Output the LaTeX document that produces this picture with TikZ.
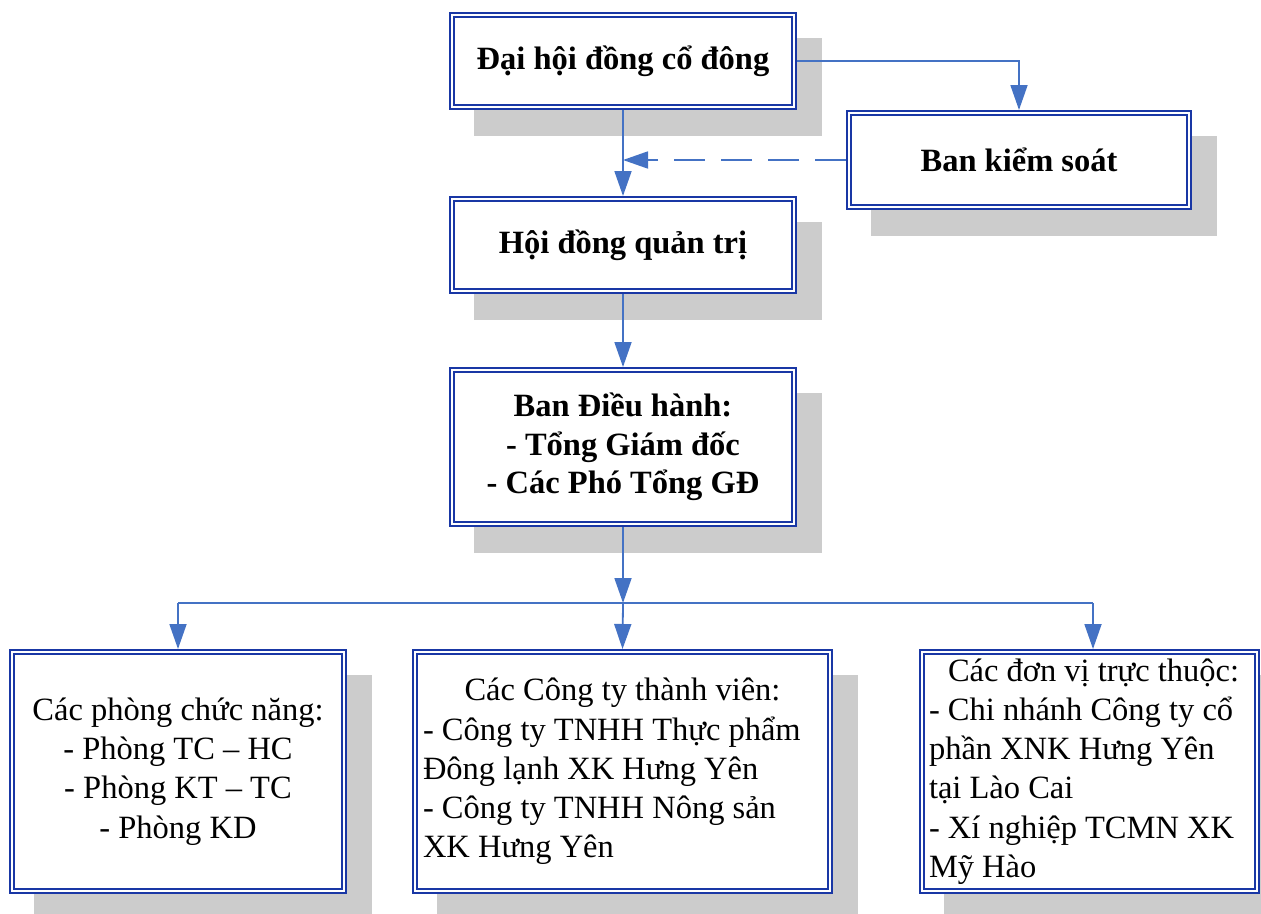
\documentclass[tikz,border=0pt]{standalone}
\usepackage{fontspec}
\setmainfont{Liberation Serif}
\usetikzlibrary{arrows.meta,backgrounds,calc}
\definecolor{boxc}{RGB}{25,55,165}
\definecolor{linec}{RGB}{68,114,196}
\definecolor{shc}{RGB}{204,204,204}
\tikzset{
  box/.style={draw=boxc, double=white, double distance=2.4pt, line width=1.8pt,
    fill=white, outer sep=3pt, inner sep=0pt, align=center,
    font=\fontsize{32.5}{39.3}\selectfont},
  bbox/.style={box, font=\fontsize{32.5}{38.6}\selectfont\bfseries},
  arr/.style={draw=linec, line width=1.8pt, -{Triangle[length=25pt,width=17pt]}},
  conn/.style={draw=linec, line width=1.8pt},
  shadowbox/.style={fill=shc}
}
\begin{document}
\begin{tikzpicture}[x=1pt,y=-1pt]
\useasboundingbox (0,0) rectangle (1261,913);
\node[bbox, minimum width=342pt, minimum height=92pt] (b1) at (623,61) {Đại hội đồng cổ đông};
\node[bbox, minimum width=340pt, minimum height=94pt] (b2) at (1019,160) {Ban kiểm soát};
\node[bbox, minimum width=342pt, minimum height=92pt] (b3) at (623,245) {Hội đồng quản trị};
\node[bbox, minimum width=342pt, minimum height=154pt] (b4) at (623,447) {Ban Điều hành:\\- Tổng Giám đốc\\- Các Phó Tổng GĐ};
\node[box, minimum width=332pt, minimum height=239pt] (b5) at (178,771.5) {Các phòng chức năng:\\- Phòng TC -- HC\\- Phòng KT -- TC\\- Phòng KD};
\node[box, minimum width=415pt, minimum height=239pt, text width=399pt, align=flush left] (b6) at (622.5,771.5)
  {\makebox[\hsize][c]{Các Công ty thành viên:}\\- Công ty TNHH Thực phẩm\\Đông lạnh XK Hưng Yên\\- Công ty TNHH Nông sản\\XK Hưng Yên};
\node[box, minimum width=335pt, minimum height=239pt, text width=321pt, align=flush left] (b7) at (1089.5,771.5)
  {\makebox[\hsize][c]{\ Các đơn vị trực thuộc:}\\- Chi nhánh Công ty cổ\\phần XNK Hưng Yên\\tại Lào Cai\\- Xí nghiệp TCMN XK\\Mỹ Hào};
\begin{scope}[on background layer]
  \foreach \b in {b1,b2,b3,b4,b5,b6,b7}{
    \fill[shadowbox] ($(\b.north west)+(25,26)$) rectangle ($(\b.south east)+(25,26)$);
  }
\end{scope}
\coordinate (j) at (623,603);
\coordinate (k1) at (178,603);
\coordinate (k3) at (1093,603);
\draw[arr] (b1.east) -| (b2.north);
\draw[arr] (b1.south) -- (b3.north);
\draw[arr, dash pattern=on 31pt off 16pt] (b2.west) -- (b2.west -| b1.south);
\draw[arr] (b3.south) -- (b4.north);
\draw[arr] (b4.south) -- (j);
\draw[conn] (k1) -- (k3);
\draw[arr] (k1) -- (k1 |- b5.north);
\draw[arr] (j) -- (b6.north);
\draw[arr] (k3) -- (k3 |- b7.north);
\end{tikzpicture}
\end{document}
